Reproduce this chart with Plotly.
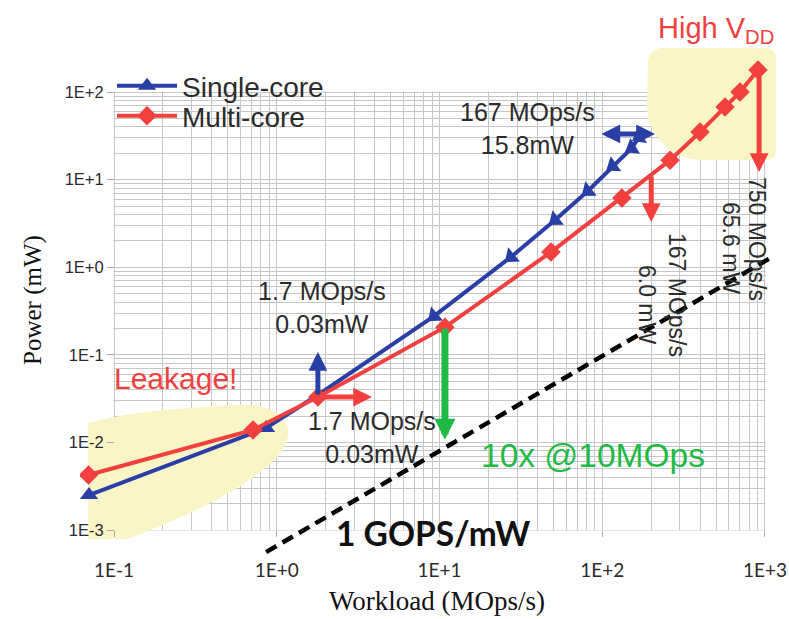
import math
import numpy as np
import plotly.graph_objects as go

# ---------------- data ----------------
single_x = [0.0702, 0.859, 1.79, 9.25, 27.5, 51.3, 81.6, 116, 152, 168]
single_y = [0.00251, 0.0146, 0.0348, 0.277, 1.31, 3.46, 7.41, 14.3, 23.0, 30.6]
multi_x = [0.0697, 0.715, 1.79, 10.8, 48.4, 132, 261, 399, 568, 702, 906]
multi_y = [0.00425, 0.0139, 0.033, 0.207, 1.49, 6.17, 16.7, 34.9, 67.4, 100, 178]
gops_x = [0.86, 1105]
gops_y = [0.00056, 1.31]

x_ticks = [0.1, 1, 10, 100, 1000]
x_tick_labels = ["1E-1", "1E+0", "1E+1", "1E+2", "1E+3"]
y_ticks = [0.001, 0.01, 0.1, 1, 10, 100]
y_tick_labels = ["1E-3", "1E-2", "1E-1", "1E+0", "1E+1", "1E+2"]

# arrows: (x_tail, y_tail, x_head, y_head)
arrow_blue_up = (1.79, 0.034, 1.79, 0.108)
arrow_red_right = (1.79, 0.033, 3.85, 0.033)
arrow_green = (10.8, 0.207, 10.8, 0.0107)
arrow_red_167 = (200, 11.3, 200, 3.28)
arrow_red_750 = (920, 178, 920, 12.2)
arrow_blue_dbl = (96.8, 33.2, 211, 33.2)

# ---------------- styling / layout ----------------
W, H = 789, 619
L, R, T, B = 80, 9, 40, 59
PW, PH = W - L - R, H - T - B
X_RANGE = [-1.2089, 3.0922]
Y_RANGE = [-3.342, 2.594]

BLUE = "#2a3fa6"
RED = "#f2403f"
GREEN = "#1fba45"
YEL = "#f9f5c6"
TXT = "#2b2b2b"
GRID = "#c6c6c6"


def fx(px):
    return (px - L) / PW


def fy(py):
    return (H - B - py) / PH


def dx(px):  # pixel -> data value on the log x axis
    return 10 ** (X_RANGE[0] + fx(px) * (X_RANGE[1] - X_RANGE[0]))


def dy(py):
    return 10 ** (Y_RANGE[0] + fy(py) * (Y_RANGE[1] - Y_RANGE[0]))


def path_from_pixels(pts):
    return "M " + " L ".join(f"{dx(a):.6g},{dy(b):.6g}" for a, b in pts) + " Z"


def catmull(pts, n=10):
    pts = [pts[0]] + list(pts) + [pts[-1]]
    out = []
    for i in range(1, len(pts) - 2):
        p0, p1, p2, p3 = [np.array(p, float) for p in pts[i - 1:i + 3]]
        for s in np.linspace(0, 1, n, endpoint=False):
            out.append(tuple(0.5 * ((2 * p1) + (-p0 + p2) * s +
                                    (2 * p0 - 5 * p1 + 4 * p2 - p3) * s * s +
                                    (-p0 + 3 * p1 - 3 * p2 + p3) * s ** 3)))
    out.append(tuple(pts[-2]))
    return out


fig = go.Figure()

fig.add_trace(go.Scatter(
    x=gops_x, y=gops_y, mode="lines", showlegend=False,
    line=dict(color="black", width=4.5, dash="12px,7px"), hoverinfo="skip"))

blue_angles = [0, 0, 0, 230, 230, 232, 232, 235, 238, 240]
fig.add_trace(go.Scatter(
    x=single_x, y=single_y, mode="lines+markers", name="Single-core",
    line=dict(color=BLUE, width=4), legend="legend",
    marker=dict(symbol="triangle-up", size=16, color=BLUE, angle=blue_angles)))
fig.add_trace(go.Scatter(
    x=multi_x, y=multi_y, mode="lines+markers", name="Multi-core",
    line=dict(color=RED, width=4), legend="legend2",
    marker=dict(symbol="diamond", size=15, color=RED)))

shapes = []
eps = 0.6
# covers that limit the grid to the 1E-1..1E+3 x 1E-3..1E+2 box
for px0, px1, py0, py1 in [
    (L - 5, 114 - eps, T - 5, H - B + 5),
    (L - 5, W - R + 5, T - 5, 92 - eps),
    (L - 5, W - R + 5, 530 + eps, H - B + 5),
    (765 + eps, W - R + 5, T - 5, H - B + 5),
]:
    shapes.append(dict(type="rect", xref="x", yref="y",
                       x0=dx(px0), x1=dx(px1), y0=dy(py1), y1=dy(py0),
                       layer="between", fillcolor="white", line=dict(width=0)))

# bottom-left yellow highlight
leak_outline = [(88, 423), (137, 413), (203, 407), (250, 405), (273, 411), (285, 422),
                (288, 436), (278, 456), (252, 478), (218, 499), (172, 521),
                (128, 539)]
leak_pts = catmull(leak_outline) + [(88, 539)]
shapes.append(dict(type="path", xref="x", yref="y", layer="between",
                   path=path_from_pixels(leak_pts),
                   fillcolor=YEL, line=dict(width=0)))


def arc(cxp, cyp, r, a0, a1, n=14):
    return [(cxp + r * math.cos(math.radians(v)), cyp + r * math.sin(math.radians(v)))
            for v in np.linspace(a0, a1, n)]


blob = arc(662, 62, 14, 180, 270) + arc(766, 58, 10, 270, 360) + \
    arc(766, 150, 10, 0, 90) + arc(702, 105, 55, 90, 180)
shapes.append(dict(type="path", xref="x", yref="y", layer="between",
                   path=path_from_pixels(blob), fillcolor=YEL, line=dict(width=0)))

lg = math.log10
ann = []


def add_arrow(arr, color, width, size, both=False):
    xt, yt, xh, yh = arr
    d = dict(x=lg(xh), y=lg(yh), ax=lg(xt), ay=lg(yt), xref="x", yref="y",
             axref="x", ayref="y", text="", showarrow=True, arrowhead=2,
             arrowwidth=width, arrowsize=size, arrowcolor=color, standoff=0)
    if both:
        d.update(arrowside="end+start", startarrowhead=2, startarrowsize=size)
    ann.append(d)


add_arrow(arrow_blue_up, BLUE, 5, 0.75)
add_arrow(arrow_red_right, RED, 5, 0.75)
add_arrow(arrow_green, GREEN, 7, 0.6)
add_arrow(arrow_red_167, RED, 5, 0.75)
add_arrow(arrow_red_750, RED, 5, 0.75)
add_arrow(arrow_blue_dbl, BLUE, 5, 0.75, both=True)


def text(px, py, s, size, color=TXT, family="Liberation Sans", angle=0, weight="normal"):
    f = dict(size=size, color=color, family=family, weight=weight)
    ann.append(dict(x=fx(px), y=fy(py), xref="paper", yref="paper", text=s,
                    showarrow=False, font=f, textangle=angle,
                    xanchor="center", yanchor="middle", align="center"))


text(527, 129, "167 MOps/s<br>15.8mW", 25)
text(322, 307, "1.7 MOps/s<br>0.03mW", 25)
text(372, 437, "1.7 MOps/s<br>0.03mW", 25)
text(175, 378, "Leakage!", 30, RED)
text(593, 455, "10x @10MOps", 33.5, GREEN)
text(433, 533, "1 GOPS/mW", 33.5, "#111111", family="Lato", weight="bold")
text(757, 239, "750 MOps/s", 23, angle=90)
text(731, 248, "65.6 mW", 23, angle=90)
text(677, 295, "167 MOps/s", 23, angle=90)
text(647, 305, "6.0 mW", 23, angle=90)
text(716, 30, "High V<sub>DD</sub>", 29, RED)
text(33, 300, "Power (mW)", 25, "#111111", family="Liberation Serif", angle=-90)
text(437, 601, "Workload (MOps/s)", 27, "#111111", family="Liberation Serif")

minor_x = [m * 10 ** e for e in range(-2, 4) for m in range(2, 10)]
minor_y = [m * 10 ** e for e in range(-4, 3) for m in range(2, 10)]

legend_common = dict(xanchor="left", yanchor="top", bgcolor="rgba(0,0,0,0)",
                     itemwidth=60,
                     font=dict(size=28, color=TXT, family="Liberation Sans"))

fig.update_layout(
    width=W, height=H,
    margin=dict(l=L, r=R, t=T, b=B, autoexpand=False),
    paper_bgcolor="white", plot_bgcolor="white",
    shapes=shapes,
    annotations=ann,
    showlegend=True,
    legend=dict(x=fx(112), y=fy(61), **legend_common),
    legend2=dict(x=fx(112), y=fy(91), **legend_common),
    xaxis=dict(type="log", range=X_RANGE, tickmode="array", tickvals=x_ticks,
               ticktext=x_tick_labels, showgrid=True, gridcolor=GRID, gridwidth=1,
               zeroline=False, showline=False, ticks="outside", ticklen=6,
               tickcolor="#aaaaaa", anchor="free", position=fy(530),
               automargin=False, ticklabelstandoff=17,
               tickfont=dict(size=19, color=TXT, family="Lato"),
               minor=dict(tickmode="array", tickvals=minor_x, showgrid=True,
                          gridcolor=GRID, gridwidth=1, ticks="")),
    yaxis=dict(type="log", range=Y_RANGE, tickmode="array", tickvals=y_ticks,
               ticktext=y_tick_labels, showgrid=True, gridcolor=GRID, gridwidth=1,
               zeroline=False, showline=False, ticks="outside", ticklen=7,
               tickcolor="#aaaaaa", anchor="free", position=fx(114),
               automargin=False,
               tickfont=dict(size=16.5, color=TXT, family="Liberation Sans"),
               minor=dict(tickmode="array", tickvals=minor_y, showgrid=True,
                          gridcolor=GRID, gridwidth=1, ticks="")),
)

fig.write_html("out.html", config={"displayModeBar": False},
               post_script="document.body.style.margin='0';"
                           "document.body.style.overflow='hidden';")
